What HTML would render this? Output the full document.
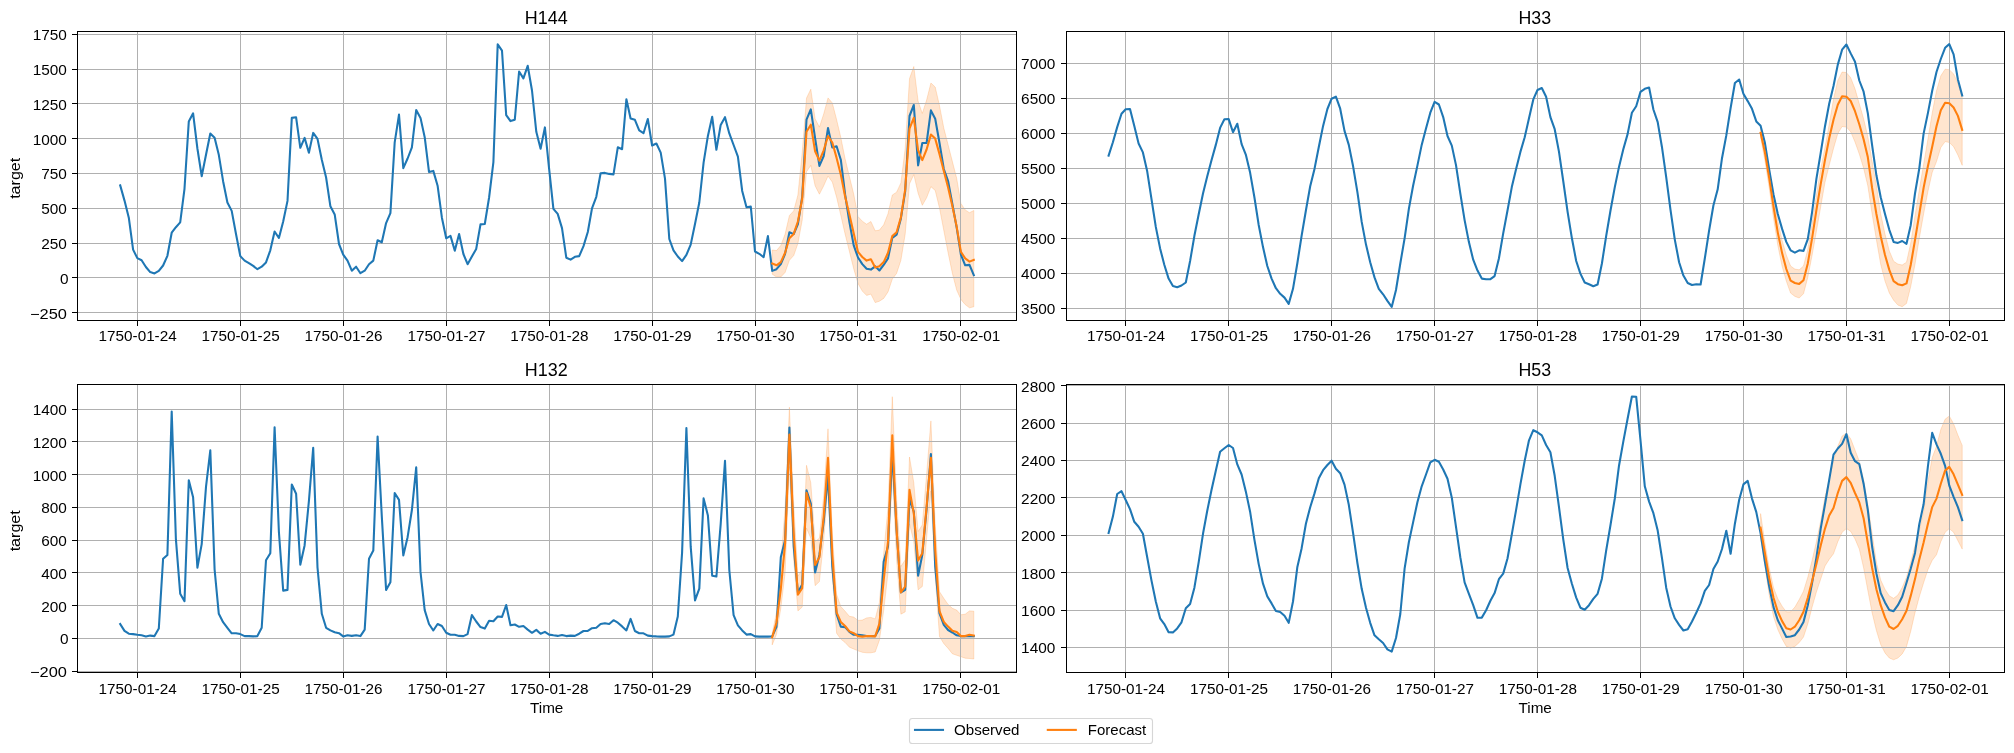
<!DOCTYPE html>
<html><head><meta charset="utf-8"><title>forecast</title>
<style>
html,body{margin:0;padding:0;background:#fff;}
body{width:2014px;height:753px;overflow:hidden;}
svg{display:block;will-change:transform;}
text{font-family:"Liberation Sans",sans-serif;fill:#000;}
</style></head><body>
<svg width="2014" height="753" viewBox="0 0 2014 753">
<rect width="2014" height="753" fill="#fff"/>
<clipPath id="cH144"><rect x="77.5" y="31.5" width="939.0" height="289.0"/></clipPath>
<g clip-path="url(#cH144)">
<polygon points="772.2,250.0 776.5,250.6 780.8,245.4 785.1,234.1 789.4,215.5 793.7,210.9 797.9,195.0 802.2,152.7 806.5,98.1 810.8,89.2 815.1,118.7 819.4,127.1 823.7,114.0 828.0,97.9 832.3,102.9 836.6,119.6 840.8,137.4 845.1,158.8 849.4,176.5 853.7,194.0 858.0,216.5 862.3,221.2 866.6,224.2 870.9,221.5 875.2,230.8 879.4,230.1 883.7,224.8 888.0,213.7 892.3,195.0 896.6,192.2 900.9,182.9 905.2,148.5 909.5,78.6 913.8,66.5 918.1,101.1 922.3,113.4 926.6,100.1 930.9,83.0 935.2,87.0 939.5,105.7 943.8,128.1 948.1,144.8 952.4,161.6 956.7,178.3 960.9,203.4 965.2,209.9 969.5,212.7 973.8,210.5 973.8,306.8 969.5,307.8 965.2,304.6 960.9,299.4 956.7,290.1 952.4,273.4 948.1,252.8 943.8,230.5 939.5,208.1 935.2,190.4 930.9,186.7 926.6,197.8 922.3,205.3 918.1,193.2 913.8,174.6 909.5,183.9 905.2,234.1 900.9,260.3 896.6,273.4 892.3,279.0 888.0,291.9 883.7,298.4 879.4,301.2 875.2,302.6 870.9,294.1 866.6,295.4 862.3,291.1 858.0,283.5 853.7,268.7 849.4,251.4 845.1,234.1 840.8,215.3 836.6,197.2 832.3,182.1 828.0,176.1 823.7,185.8 819.4,194.2 815.1,185.8 810.8,165.4 806.5,171.8 802.2,220.2 797.9,243.5 793.7,255.6 789.4,260.3 785.1,272.4 780.8,277.0 776.5,277.0 772.2,274.2" fill="#ff7f0e" fill-opacity="0.2" stroke="#ff7f0e" stroke-opacity="0.2" stroke-width="1" stroke-linejoin="round"/>
</g>
<path d="M137.5 31.5V320.5M240.5 31.5V320.5M343.5 31.5V320.5M446.5 31.5V320.5M549.5 31.5V320.5M652.5 31.5V320.5M755.5 31.5V320.5M857.5 31.5V320.5M960.5 31.5V320.5M77.5 312.5H1016.5M77.5 277.5H1016.5M77.5 243.5H1016.5M77.5 208.5H1016.5M77.5 173.5H1016.5M77.5 138.5H1016.5M77.5 103.5H1016.5M77.5 69.5H1016.5M77.5 34.5H1016.5" stroke="#b0b0b0" stroke-width="1" fill="none" shape-rendering="crispEdges"/>
<g clip-path="url(#cH144)">
<polyline points="120.2,185.4 124.5,200.6 128.8,217.7 133.1,249.6 137.3,258.1 141.6,260.2 145.9,267.0 150.2,272.1 154.5,273.4 158.8,270.9 163.1,265.5 167.4,255.8 171.7,232.7 175.9,227.2 180.2,222.4 184.5,188.8 188.8,121.4 193.1,113.3 197.4,148.5 201.7,176.2 206.0,154.8 210.3,133.5 214.6,137.7 218.8,154.8 223.1,181.2 227.4,202.5 231.7,210.9 236.0,234.0 240.3,256.1 244.6,260.6 248.9,263.1 253.2,265.9 257.4,269.2 261.7,266.7 266.0,262.4 270.3,250.3 274.6,231.5 278.9,238.0 283.2,221.5 287.5,200.9 291.8,117.9 296.1,117.3 300.3,147.8 304.6,137.9 308.9,152.8 313.2,132.9 317.5,138.9 321.8,159.8 326.1,177.5 330.4,206.3 334.7,214.4 339.0,244.0 343.2,254.6 347.5,260.6 351.8,270.7 356.1,266.7 360.4,273.2 364.7,270.7 369.0,264.2 373.3,260.6 377.6,240.3 381.8,242.3 386.1,223.1 390.4,213.1 394.7,142.3 399.0,114.6 403.3,168.2 407.6,158.5 411.9,147.3 416.2,110.1 420.5,117.9 424.7,137.2 429.0,171.9 433.3,170.9 437.6,185.7 441.9,217.7 446.2,238.3 450.5,235.9 454.8,250.8 459.1,234.0 463.4,254.0 467.6,264.2 471.9,256.5 476.2,249.0 480.5,224.4 484.8,224.0 489.1,197.5 493.4,162.2 497.7,44.4 502.0,50.7 506.2,115.1 510.5,121.1 514.8,119.7 519.1,71.5 523.4,78.4 527.7,65.8 532.0,90.5 536.3,131.8 540.6,148.8 544.9,127.4 549.1,168.7 553.4,208.8 557.7,213.9 562.0,228.1 566.3,257.7 570.6,259.6 574.9,256.8 579.2,256.1 583.5,246.1 587.8,232.0 592.0,208.4 596.3,196.8 600.6,173.2 604.9,172.9 609.2,173.9 613.5,174.4 617.8,147.3 622.1,149.2 626.4,99.2 630.6,118.5 634.9,119.8 639.2,130.4 643.5,133.2 647.8,119.0 652.1,145.5 656.4,143.5 660.7,152.6 665.0,178.6 669.3,239.0 673.5,250.3 677.8,256.5 682.1,261.1 686.4,254.9 690.7,244.6 695.0,224.0 699.3,202.5 703.6,162.7 707.9,135.9 712.2,116.8 716.4,149.8 720.7,124.9 725.0,117.2 729.3,133.4 733.6,145.0 737.9,156.6 742.2,191.0 746.5,207.3 750.8,206.6 755.0,251.5 759.3,253.8 763.6,257.2 767.9,236.1 772.2,270.9 776.5,269.2 780.8,264.1 785.1,253.8 789.4,232.3 793.7,234.1 797.9,224.0 802.2,197.0 806.5,119.7 810.8,109.4 815.1,138.2 819.4,165.9 823.7,156.0 828.0,128.1 832.3,147.5 836.6,146.3 840.8,159.7 845.1,194.5 849.4,222.0 853.7,245.4 858.0,257.5 862.3,264.1 866.6,268.7 870.9,269.6 875.2,266.3 879.4,270.5 883.7,264.9 888.0,258.4 892.3,237.9 896.6,234.7 900.9,218.4 905.2,191.3 909.5,116.0 913.8,105.0 918.1,165.4 922.3,143.0 926.6,143.0 930.9,110.4 935.2,118.7 939.5,143.0 943.8,169.0 948.1,181.2 952.4,204.3 956.7,227.6 960.9,254.7 965.2,265.3 969.5,264.9 973.8,275.2" fill="none" stroke="#1f77b4" stroke-width="2.08" stroke-linejoin="round" stroke-linecap="square"/>
<polyline points="772.2,263.5 776.5,265.3 780.8,262.1 785.1,252.8 789.4,238.3 793.7,233.9 797.9,221.5 802.2,198.8 806.5,131.8 810.8,124.7 815.1,151.3 819.4,160.6 823.7,150.3 828.0,136.0 832.3,142.5 836.6,157.9 840.8,174.6 845.1,196.5 849.4,214.6 853.7,233.3 858.0,251.9 862.3,257.0 866.6,260.6 870.9,259.3 875.2,267.4 879.4,266.3 883.7,262.1 888.0,252.8 892.3,236.1 896.6,232.3 900.9,217.4 905.2,189.4 909.5,128.6 913.8,117.8 918.1,150.3 922.3,160.1 926.6,149.5 930.9,134.6 935.2,138.6 939.5,154.1 943.8,170.9 948.1,187.5 952.4,206.2 956.7,226.8 960.9,251.9 965.2,258.4 969.5,261.6 973.8,259.9" fill="none" stroke="#ff7f0e" stroke-width="2.08" stroke-linejoin="round" stroke-linecap="square"/>
</g>
<rect x="77.5" y="31.5" width="939.0" height="289.0" fill="none" stroke="#000" stroke-width="1" shape-rendering="crispEdges"/>
<path d="M137.0 321.0h1v5h-1zM240.0 321.0h1v5h-1zM343.0 321.0h1v5h-1zM446.0 321.0h1v5h-1zM549.0 321.0h1v5h-1zM652.0 321.0h1v5h-1zM755.0 321.0h1v5h-1zM857.0 321.0h1v5h-1zM960.0 321.0h1v5h-1zM77.0 312.0h-5v1h5zM77.0 277.0h-5v1h5zM77.0 243.0h-5v1h5zM77.0 208.0h-5v1h5zM77.0 173.0h-5v1h5zM77.0 138.0h-5v1h5zM77.0 103.0h-5v1h5zM77.0 69.0h-5v1h5zM77.0 34.0h-5v1h5z" fill="#000" stroke="none" shape-rendering="crispEdges"/>
<text x="137.64" y="341.00" font-size="14.1" text-anchor="middle" textLength="78.12" lengthAdjust="spacingAndGlyphs">1750-01-24</text>
<text x="240.59" y="341.00" font-size="14.1" text-anchor="middle" textLength="78.12" lengthAdjust="spacingAndGlyphs">1750-01-25</text>
<text x="343.54" y="341.00" font-size="14.1" text-anchor="middle" textLength="78.12" lengthAdjust="spacingAndGlyphs">1750-01-26</text>
<text x="446.49" y="341.00" font-size="14.1" text-anchor="middle" textLength="78.12" lengthAdjust="spacingAndGlyphs">1750-01-27</text>
<text x="549.44" y="341.00" font-size="14.1" text-anchor="middle" textLength="78.12" lengthAdjust="spacingAndGlyphs">1750-01-28</text>
<text x="652.40" y="341.00" font-size="14.1" text-anchor="middle" textLength="78.12" lengthAdjust="spacingAndGlyphs">1750-01-29</text>
<text x="755.35" y="341.00" font-size="14.1" text-anchor="middle" textLength="78.12" lengthAdjust="spacingAndGlyphs">1750-01-30</text>
<text x="858.30" y="341.00" font-size="14.1" text-anchor="middle" textLength="78.12" lengthAdjust="spacingAndGlyphs">1750-01-31</text>
<text x="961.25" y="341.00" font-size="14.1" text-anchor="middle" textLength="78.12" lengthAdjust="spacingAndGlyphs">1750-02-01</text>
<text x="66.90" y="319.00" font-size="14.1" text-anchor="end" textLength="36.92" lengthAdjust="spacingAndGlyphs">−250</text>
<text x="68.60" y="284.00" font-size="14.1" text-anchor="end" textLength="8.55" lengthAdjust="spacingAndGlyphs">0</text>
<text x="66.90" y="249.00" font-size="14.1" text-anchor="end" textLength="25.65" lengthAdjust="spacingAndGlyphs">250</text>
<text x="66.90" y="214.00" font-size="14.1" text-anchor="end" textLength="25.65" lengthAdjust="spacingAndGlyphs">500</text>
<text x="66.90" y="179.00" font-size="14.1" text-anchor="end" textLength="25.65" lengthAdjust="spacingAndGlyphs">750</text>
<text x="66.90" y="145.00" font-size="14.1" text-anchor="end" textLength="34.21" lengthAdjust="spacingAndGlyphs">1000</text>
<text x="66.90" y="110.00" font-size="14.1" text-anchor="end" textLength="34.21" lengthAdjust="spacingAndGlyphs">1250</text>
<text x="66.90" y="75.00" font-size="14.1" text-anchor="end" textLength="34.21" lengthAdjust="spacingAndGlyphs">1500</text>
<text x="66.90" y="40.00" font-size="14.1" text-anchor="end" textLength="34.21" lengthAdjust="spacingAndGlyphs">1750</text>
<text x="546.30" y="23.90" font-size="17.6" text-anchor="middle" textLength="42.92" lengthAdjust="spacingAndGlyphs">H144</text>
<text transform="translate(19.9,178.3) rotate(-90)" font-size="14.1" text-anchor="middle" textLength="41.12" lengthAdjust="spacingAndGlyphs">target</text>
<clipPath id="cH33"><rect x="1066.5" y="31.5" width="938.0" height="289.0"/></clipPath>
<g clip-path="url(#cH33)">
<polygon points="1760.6,127.7 1764.9,143.8 1769.2,168.3 1773.5,195.6 1777.8,220.8 1782.1,240.4 1786.3,255.0 1790.6,266.0 1794.9,269.1 1799.2,269.8 1803.5,266.0 1807.8,249.4 1812.1,223.3 1816.4,195.3 1820.7,169.2 1825.0,147.3 1829.2,124.3 1833.5,99.1 1837.8,80.5 1842.1,72.0 1846.4,72.6 1850.7,77.7 1855.0,88.8 1859.3,103.8 1863.6,118.7 1867.8,136.4 1872.1,161.3 1876.4,185.8 1880.7,213.8 1885.0,234.1 1889.3,250.9 1893.6,261.2 1897.9,264.1 1902.2,265.0 1906.5,262.2 1910.7,243.2 1915.0,215.8 1919.3,189.7 1923.6,164.4 1927.9,139.2 1932.2,113.1 1936.5,90.7 1940.8,75.8 1945.1,69.2 1949.3,69.7 1953.6,73.9 1957.9,83.2 1962.2,97.2 1962.2,165.3 1957.9,155.1 1953.6,146.7 1949.3,142.5 1945.1,141.6 1940.8,147.6 1936.5,161.6 1932.2,172.5 1927.9,191.6 1923.6,214.0 1919.3,238.2 1915.0,264.3 1910.7,286.6 1906.5,303.4 1902.2,306.7 1897.9,305.1 1893.6,300.2 1889.3,292.9 1885.0,281.1 1880.7,264.3 1876.4,239.7 1872.1,213.8 1867.8,185.8 1863.6,168.1 1859.3,154.1 1855.0,142.0 1850.7,131.8 1846.4,127.1 1842.1,126.5 1837.8,133.6 1833.5,148.5 1829.2,165.3 1825.0,182.3 1820.7,206.8 1816.4,231.3 1812.1,255.2 1807.8,277.4 1803.5,293.7 1799.2,298.0 1794.9,296.4 1790.6,293.1 1786.3,281.1 1782.1,266.3 1777.8,245.3 1773.5,218.0 1769.2,187.9 1764.9,160.6 1760.6,137.5" fill="#ff7f0e" fill-opacity="0.2" stroke="#ff7f0e" stroke-opacity="0.2" stroke-width="1" stroke-linejoin="round"/>
</g>
<path d="M1125.5 31.5V320.5M1228.5 31.5V320.5M1331.5 31.5V320.5M1434.5 31.5V320.5M1537.5 31.5V320.5M1640.5 31.5V320.5M1743.5 31.5V320.5M1846.5 31.5V320.5M1949.5 31.5V320.5M1066.5 308.5H2004.5M1066.5 273.5H2004.5M1066.5 238.5H2004.5M1066.5 203.5H2004.5M1066.5 168.5H2004.5M1066.5 133.5H2004.5M1066.5 98.5H2004.5M1066.5 63.5H2004.5" stroke="#b0b0b0" stroke-width="1" fill="none" shape-rendering="crispEdges"/>
<g clip-path="url(#cH33)">
<polyline points="1108.6,155.6 1112.9,142.3 1117.2,127.1 1121.5,113.8 1125.7,109.2 1130.0,109.0 1134.3,125.9 1138.6,143.5 1142.9,152.4 1147.2,171.3 1151.5,199.1 1155.8,226.9 1160.1,248.4 1164.3,264.8 1168.6,278.6 1172.9,286.0 1177.2,287.2 1181.5,285.5 1185.8,282.5 1190.1,261.0 1194.4,235.8 1198.7,214.3 1203.0,193.5 1207.2,176.4 1211.5,160.2 1215.8,144.9 1220.1,127.9 1224.4,119.3 1228.7,119.1 1233.0,132.2 1237.3,123.8 1241.6,144.1 1245.8,154.6 1250.1,172.6 1254.4,197.2 1258.7,225.0 1263.0,247.1 1267.3,266.0 1271.6,278.6 1275.9,288.2 1280.2,293.8 1284.5,297.6 1288.7,303.9 1293.0,288.8 1297.3,263.5 1301.6,235.8 1305.9,210.5 1310.2,186.3 1314.5,168.9 1318.8,147.0 1323.1,125.9 1327.4,109.0 1331.6,98.7 1335.9,96.6 1340.2,108.7 1344.5,130.9 1348.8,144.9 1353.1,166.3 1357.4,192.2 1361.7,221.9 1366.0,244.6 1370.2,262.2 1374.5,277.4 1378.8,288.8 1383.1,294.3 1387.4,300.9 1391.7,306.9 1396.0,290.0 1400.3,263.5 1404.6,238.3 1408.9,208.6 1413.1,185.8 1417.4,165.6 1421.7,144.9 1426.0,128.4 1430.3,112.7 1434.6,101.9 1438.9,104.5 1443.2,117.1 1447.5,136.0 1451.8,145.6 1456.0,165.1 1460.3,193.4 1464.6,220.1 1468.9,242.1 1473.2,259.7 1477.5,270.6 1481.8,278.6 1486.1,279.2 1490.4,279.2 1494.6,276.1 1498.9,258.5 1503.2,233.3 1507.5,210.5 1511.8,187.1 1516.1,168.9 1520.4,151.9 1524.7,137.3 1529.0,118.3 1533.3,99.4 1537.5,90.0 1541.8,88.0 1546.1,96.8 1550.4,117.1 1554.7,129.2 1559.0,151.9 1563.3,181.5 1567.6,211.8 1571.9,238.3 1576.2,261.0 1580.4,273.6 1584.7,282.5 1589.0,284.2 1593.3,286.2 1597.6,284.5 1601.9,263.5 1606.2,235.8 1610.5,210.5 1614.8,187.1 1619.0,166.9 1623.3,149.3 1627.6,134.1 1631.9,112.8 1636.2,106.2 1640.5,91.8 1644.8,88.8 1649.1,87.5 1653.4,109.5 1657.7,122.1 1661.9,146.7 1666.2,177.1 1670.5,209.9 1674.8,239.6 1679.1,262.2 1683.4,275.6 1687.7,283.0 1692.0,285.0 1696.3,284.2 1700.6,284.5 1704.8,258.5 1709.1,230.7 1713.4,205.5 1717.7,189.3 1722.0,158.2 1726.3,135.4 1730.6,108.2 1734.9,83.0 1739.2,79.5 1743.4,93.8 1747.7,101.1 1752.0,108.8 1756.3,121.4 1760.6,125.7 1764.9,142.8 1769.2,169.7 1773.5,194.4 1777.8,214.0 1782.1,228.9 1786.3,241.9 1790.6,250.3 1794.9,252.6 1799.2,250.3 1803.5,250.9 1807.8,239.1 1812.1,212.1 1816.4,178.8 1820.7,152.9 1825.0,126.2 1829.2,103.8 1833.5,86.0 1837.8,64.6 1842.1,49.7 1846.4,44.5 1850.7,53.4 1855.0,61.8 1859.3,80.5 1863.6,91.7 1867.8,113.1 1872.1,145.2 1876.4,175.3 1880.7,197.2 1885.0,214.0 1889.3,229.8 1893.6,241.9 1897.9,242.9 1902.2,241.0 1906.5,243.8 1910.7,225.2 1915.0,193.5 1919.3,168.3 1923.6,133.6 1927.9,113.1 1932.2,90.7 1936.5,72.0 1940.8,59.0 1945.1,47.8 1949.3,44.1 1953.6,54.3 1957.9,79.5 1962.2,95.4" fill="none" stroke="#1f77b4" stroke-width="2.08" stroke-linejoin="round" stroke-linecap="square"/>
<polyline points="1760.6,132.7 1764.9,152.3 1769.2,178.1 1773.5,206.5 1777.8,232.6 1782.1,253.1 1786.3,269.0 1790.6,280.7 1794.9,283.0 1799.2,283.9 1803.5,280.2 1807.8,263.4 1812.1,238.2 1816.4,210.2 1820.7,184.1 1825.0,159.9 1829.2,138.3 1833.5,119.7 1837.8,104.7 1842.1,96.3 1846.4,96.7 1850.7,101.0 1855.0,111.2 1859.3,124.3 1863.6,139.2 1867.8,157.1 1872.1,187.9 1876.4,214.0 1880.7,236.3 1885.0,255.0 1889.3,269.9 1893.6,281.2 1897.9,284.2 1902.2,285.3 1906.5,283.4 1910.7,265.0 1915.0,240.1 1919.3,214.0 1923.6,187.9 1927.9,166.2 1932.2,146.7 1936.5,126.2 1940.8,110.3 1945.1,102.8 1949.3,103.2 1953.6,107.5 1957.9,115.9 1962.2,129.9" fill="none" stroke="#ff7f0e" stroke-width="2.08" stroke-linejoin="round" stroke-linecap="square"/>
</g>
<rect x="1066.5" y="31.5" width="938.0" height="289.0" fill="none" stroke="#000" stroke-width="1" shape-rendering="crispEdges"/>
<path d="M1125.0 321.0h1v5h-1zM1228.0 321.0h1v5h-1zM1331.0 321.0h1v5h-1zM1434.0 321.0h1v5h-1zM1537.0 321.0h1v5h-1zM1640.0 321.0h1v5h-1zM1743.0 321.0h1v5h-1zM1846.0 321.0h1v5h-1zM1949.0 321.0h1v5h-1zM1066.0 308.0h-5v1h5zM1066.0 273.0h-5v1h5zM1066.0 238.0h-5v1h5zM1066.0 203.0h-5v1h5zM1066.0 168.0h-5v1h5zM1066.0 133.0h-5v1h5zM1066.0 98.0h-5v1h5zM1066.0 63.0h-5v1h5z" fill="#000" stroke="none" shape-rendering="crispEdges"/>
<text x="1126.04" y="341.00" font-size="14.1" text-anchor="middle" textLength="78.12" lengthAdjust="spacingAndGlyphs">1750-01-24</text>
<text x="1228.99" y="341.00" font-size="14.1" text-anchor="middle" textLength="78.12" lengthAdjust="spacingAndGlyphs">1750-01-25</text>
<text x="1331.94" y="341.00" font-size="14.1" text-anchor="middle" textLength="78.12" lengthAdjust="spacingAndGlyphs">1750-01-26</text>
<text x="1434.89" y="341.00" font-size="14.1" text-anchor="middle" textLength="78.12" lengthAdjust="spacingAndGlyphs">1750-01-27</text>
<text x="1537.84" y="341.00" font-size="14.1" text-anchor="middle" textLength="78.12" lengthAdjust="spacingAndGlyphs">1750-01-28</text>
<text x="1640.80" y="341.00" font-size="14.1" text-anchor="middle" textLength="78.12" lengthAdjust="spacingAndGlyphs">1750-01-29</text>
<text x="1743.75" y="341.00" font-size="14.1" text-anchor="middle" textLength="78.12" lengthAdjust="spacingAndGlyphs">1750-01-30</text>
<text x="1846.70" y="341.00" font-size="14.1" text-anchor="middle" textLength="78.12" lengthAdjust="spacingAndGlyphs">1750-01-31</text>
<text x="1949.65" y="341.00" font-size="14.1" text-anchor="middle" textLength="78.12" lengthAdjust="spacingAndGlyphs">1750-02-01</text>
<text x="1055.30" y="314.00" font-size="14.1" text-anchor="end" textLength="34.21" lengthAdjust="spacingAndGlyphs">3500</text>
<text x="1055.30" y="279.00" font-size="14.1" text-anchor="end" textLength="34.21" lengthAdjust="spacingAndGlyphs">4000</text>
<text x="1055.30" y="244.00" font-size="14.1" text-anchor="end" textLength="34.21" lengthAdjust="spacingAndGlyphs">4500</text>
<text x="1055.30" y="209.00" font-size="14.1" text-anchor="end" textLength="34.21" lengthAdjust="spacingAndGlyphs">5000</text>
<text x="1055.30" y="174.00" font-size="14.1" text-anchor="end" textLength="34.21" lengthAdjust="spacingAndGlyphs">5500</text>
<text x="1055.30" y="139.00" font-size="14.1" text-anchor="end" textLength="34.21" lengthAdjust="spacingAndGlyphs">6000</text>
<text x="1055.30" y="104.00" font-size="14.1" text-anchor="end" textLength="34.21" lengthAdjust="spacingAndGlyphs">6500</text>
<text x="1055.30" y="69.00" font-size="14.1" text-anchor="end" textLength="34.21" lengthAdjust="spacingAndGlyphs">7000</text>
<text x="1534.80" y="23.90" font-size="17.6" text-anchor="middle" textLength="32.66" lengthAdjust="spacingAndGlyphs">H33</text>
<clipPath id="cH132"><rect x="77.5" y="384.5" width="939.0" height="288.0"/></clipPath>
<g clip-path="url(#cH132)">
<polygon points="772.2,633.5 776.5,612.2 780.8,564.7 785.1,507.4 789.4,407.2 793.7,504.1 797.9,576.2 802.2,569.6 806.5,465.3 810.8,482.8 815.1,541.5 819.4,538.2 823.7,495.9 828.0,428.8 832.3,533.6 836.6,594.2 840.8,606.5 845.1,611.2 849.4,616.3 853.7,617.1 858.0,620.4 862.3,620.1 866.6,617.9 870.9,617.4 875.2,618.9 879.4,602.4 883.7,553.2 888.0,507.4 892.3,396.7 896.6,499.2 900.9,566.5 905.2,559.8 909.5,457.0 913.8,482.8 918.1,531.5 922.3,524.9 926.6,474.6 930.9,420.9 935.2,523.8 939.5,591.7 943.8,598.3 948.1,604.5 952.4,608.3 956.7,610.1 960.9,614.8 965.2,614.2 969.5,610.9 973.8,611.2 973.8,659.0 969.5,658.5 965.2,658.2 960.9,656.7 956.7,655.3 952.4,653.8 948.1,648.4 943.8,643.6 939.5,636.6 935.2,576.2 930.9,491.0 926.6,538.5 922.3,586.5 918.1,589.8 913.8,541.8 909.5,523.8 905.2,611.9 900.9,614.2 896.6,559.8 892.3,471.4 888.0,572.9 883.7,610.6 879.4,640.2 875.2,652.0 870.9,652.8 866.6,652.8 862.3,652.3 858.0,650.8 853.7,649.0 849.4,647.2 845.1,642.5 840.8,639.1 836.6,633.2 832.3,576.2 828.0,486.1 823.7,540.1 819.4,581.6 815.1,585.7 810.8,538.2 806.5,528.2 802.2,607.1 797.9,610.9 793.7,559.8 789.4,466.5 785.1,572.9 780.8,608.3 776.5,634.3 772.2,644.9" fill="#ff7f0e" fill-opacity="0.2" stroke="#ff7f0e" stroke-opacity="0.2" stroke-width="1" stroke-linejoin="round"/>
</g>
<path d="M137.5 384.5V672.5M240.5 384.5V672.5M343.5 384.5V672.5M446.5 384.5V672.5M549.5 384.5V672.5M652.5 384.5V672.5M755.5 384.5V672.5M857.5 384.5V672.5M960.5 384.5V672.5M77.5 671.5H1016.5M77.5 638.5H1016.5M77.5 605.5H1016.5M77.5 572.5H1016.5M77.5 540.5H1016.5M77.5 507.5H1016.5M77.5 474.5H1016.5M77.5 441.5H1016.5M77.5 409.5H1016.5" stroke="#b0b0b0" stroke-width="1" fill="none" shape-rendering="crispEdges"/>
<g clip-path="url(#cH132)">
<polyline points="120.2,624.0 124.5,630.9 128.8,633.7 133.1,634.1 137.3,634.8 141.6,635.3 145.9,636.4 150.2,635.6 154.5,636.1 158.8,628.6 163.1,558.8 167.4,554.9 171.7,411.6 175.9,539.2 180.2,593.7 184.5,601.2 188.8,480.2 193.1,497.2 197.4,567.8 201.7,544.1 206.0,486.9 210.3,450.4 214.6,569.5 218.8,613.8 223.1,622.2 227.4,627.8 231.7,633.3 236.0,633.2 240.3,634.1 244.6,636.1 248.9,636.1 253.2,636.4 257.4,636.1 261.7,627.8 266.0,560.3 270.3,553.2 274.6,427.2 278.9,532.0 283.2,590.6 287.5,589.9 291.8,484.5 296.1,493.8 300.3,564.7 304.6,545.4 308.9,501.2 313.2,447.8 317.5,567.5 321.8,613.8 326.1,627.8 330.4,630.4 334.7,632.3 339.0,633.2 343.2,636.4 347.5,635.3 351.8,635.9 356.1,635.3 360.4,636.1 364.7,629.6 369.0,558.8 373.3,550.6 377.6,436.5 381.8,516.4 386.1,589.9 390.4,582.2 394.7,493.0 399.0,499.9 403.3,555.5 407.6,537.2 411.9,510.0 416.2,467.3 420.5,571.9 424.7,610.1 429.0,624.0 433.3,630.5 437.6,624.0 441.9,626.0 446.2,632.7 450.5,634.8 454.8,634.8 459.1,635.9 463.4,636.1 467.6,634.1 471.9,615.1 476.2,621.5 480.5,627.1 484.8,628.6 489.1,620.7 493.4,621.2 497.7,616.5 502.0,616.9 506.2,605.0 510.5,625.3 514.8,624.5 519.1,626.8 523.4,626.0 527.7,629.6 532.0,632.8 536.3,629.9 540.6,633.7 544.9,631.9 549.1,634.6 553.4,635.3 557.7,635.9 562.0,635.1 566.3,636.1 570.6,635.6 574.9,635.9 579.2,633.7 583.5,631.0 587.8,630.9 592.0,628.2 596.3,627.8 600.6,624.0 604.9,623.2 609.2,624.0 613.5,620.2 617.8,622.7 622.1,626.4 626.4,630.4 630.6,618.9 634.9,631.0 639.2,633.2 643.5,633.3 647.8,635.6 652.1,636.1 656.4,636.4 660.7,636.6 665.0,636.6 669.3,636.4 673.5,634.6 677.8,616.5 682.1,552.4 686.4,428.0 690.7,546.7 695.0,600.4 699.3,588.6 703.6,498.4 707.9,515.4 712.2,575.7 716.4,576.5 720.7,523.8 725.0,460.7 729.3,570.0 733.6,615.1 737.9,625.3 742.2,630.4 746.5,634.6 750.8,634.1 755.0,636.4 759.3,636.6 763.6,636.6 767.9,636.6 772.2,636.4 776.5,626.9 780.8,557.3 785.1,540.1 789.4,427.5 793.7,546.5 797.9,592.5 802.2,584.4 806.5,490.2 810.8,503.6 815.1,572.4 819.4,554.9 823.7,521.5 828.0,474.6 832.3,566.5 836.6,614.2 840.8,626.6 845.1,627.1 849.4,631.9 853.7,634.8 858.0,634.8 862.3,635.3 866.6,636.1 870.9,636.1 875.2,636.1 879.4,628.4 883.7,561.6 888.0,546.5 892.3,450.1 896.6,530.3 900.9,592.4 905.2,589.8 909.5,499.2 913.8,511.5 918.1,575.7 922.3,554.9 926.6,509.0 930.9,454.0 935.2,566.5 939.5,613.5 943.8,624.8 948.1,630.0 952.4,632.5 956.7,635.3 960.9,636.1 965.2,636.1 969.5,636.1 973.8,636.1" fill="none" stroke="#1f77b4" stroke-width="2.08" stroke-linejoin="round" stroke-linecap="square"/>
<polyline points="772.2,637.3 776.5,622.5 780.8,589.3 785.1,543.3 789.4,434.5 793.7,533.3 797.9,594.8 802.2,588.1 806.5,492.8 810.8,507.7 815.1,564.9 819.4,557.3 823.7,516.6 828.0,457.8 832.3,554.9 836.6,612.4 840.8,621.9 845.1,626.0 849.4,631.4 853.7,633.2 858.0,636.1 862.3,636.6 866.6,636.1 870.9,636.1 875.2,636.4 879.4,623.7 883.7,579.8 888.0,541.5 892.3,435.3 896.6,529.8 900.9,592.4 905.2,586.5 909.5,489.7 913.8,513.3 918.1,560.6 922.3,553.2 926.6,506.6 930.9,457.8 935.2,549.8 939.5,611.2 943.8,621.9 948.1,626.6 952.4,630.7 956.7,631.9 960.9,636.1 965.2,636.1 969.5,634.8 973.8,635.5" fill="none" stroke="#ff7f0e" stroke-width="2.08" stroke-linejoin="round" stroke-linecap="square"/>
</g>
<rect x="77.5" y="384.5" width="939.0" height="288.0" fill="none" stroke="#000" stroke-width="1" shape-rendering="crispEdges"/>
<path d="M137.0 673.0h1v5h-1zM240.0 673.0h1v5h-1zM343.0 673.0h1v5h-1zM446.0 673.0h1v5h-1zM549.0 673.0h1v5h-1zM652.0 673.0h1v5h-1zM755.0 673.0h1v5h-1zM857.0 673.0h1v5h-1zM960.0 673.0h1v5h-1zM77.0 671.0h-5v1h5zM77.0 638.0h-5v1h5zM77.0 605.0h-5v1h5zM77.0 572.0h-5v1h5zM77.0 540.0h-5v1h5zM77.0 507.0h-5v1h5zM77.0 474.0h-5v1h5zM77.0 441.0h-5v1h5zM77.0 409.0h-5v1h5z" fill="#000" stroke="none" shape-rendering="crispEdges"/>
<text x="137.64" y="694.00" font-size="14.1" text-anchor="middle" textLength="78.12" lengthAdjust="spacingAndGlyphs">1750-01-24</text>
<text x="240.59" y="694.00" font-size="14.1" text-anchor="middle" textLength="78.12" lengthAdjust="spacingAndGlyphs">1750-01-25</text>
<text x="343.54" y="694.00" font-size="14.1" text-anchor="middle" textLength="78.12" lengthAdjust="spacingAndGlyphs">1750-01-26</text>
<text x="446.49" y="694.00" font-size="14.1" text-anchor="middle" textLength="78.12" lengthAdjust="spacingAndGlyphs">1750-01-27</text>
<text x="549.44" y="694.00" font-size="14.1" text-anchor="middle" textLength="78.12" lengthAdjust="spacingAndGlyphs">1750-01-28</text>
<text x="652.40" y="694.00" font-size="14.1" text-anchor="middle" textLength="78.12" lengthAdjust="spacingAndGlyphs">1750-01-29</text>
<text x="755.35" y="694.00" font-size="14.1" text-anchor="middle" textLength="78.12" lengthAdjust="spacingAndGlyphs">1750-01-30</text>
<text x="858.30" y="694.00" font-size="14.1" text-anchor="middle" textLength="78.12" lengthAdjust="spacingAndGlyphs">1750-01-31</text>
<text x="961.25" y="694.00" font-size="14.1" text-anchor="middle" textLength="78.12" lengthAdjust="spacingAndGlyphs">1750-02-01</text>
<text x="66.90" y="677.00" font-size="14.1" text-anchor="end" textLength="36.92" lengthAdjust="spacingAndGlyphs">−200</text>
<text x="68.60" y="644.00" font-size="14.1" text-anchor="end" textLength="8.55" lengthAdjust="spacingAndGlyphs">0</text>
<text x="66.90" y="612.00" font-size="14.1" text-anchor="end" textLength="25.65" lengthAdjust="spacingAndGlyphs">200</text>
<text x="66.90" y="579.00" font-size="14.1" text-anchor="end" textLength="25.65" lengthAdjust="spacingAndGlyphs">400</text>
<text x="66.90" y="546.00" font-size="14.1" text-anchor="end" textLength="25.65" lengthAdjust="spacingAndGlyphs">600</text>
<text x="66.90" y="513.00" font-size="14.1" text-anchor="end" textLength="25.65" lengthAdjust="spacingAndGlyphs">800</text>
<text x="66.90" y="481.00" font-size="14.1" text-anchor="end" textLength="34.21" lengthAdjust="spacingAndGlyphs">1000</text>
<text x="66.90" y="448.00" font-size="14.1" text-anchor="end" textLength="34.21" lengthAdjust="spacingAndGlyphs">1200</text>
<text x="66.90" y="415.00" font-size="14.1" text-anchor="end" textLength="34.21" lengthAdjust="spacingAndGlyphs">1400</text>
<text x="546.30" y="376.00" font-size="17.6" text-anchor="middle" textLength="42.92" lengthAdjust="spacingAndGlyphs">H132</text>
<text transform="translate(19.9,530.8) rotate(-90)" font-size="14.1" text-anchor="middle" textLength="41.12" lengthAdjust="spacingAndGlyphs">target</text>
<text x="546.70" y="713.10" font-size="14.1" text-anchor="middle" textLength="33.32" lengthAdjust="spacingAndGlyphs">Time</text>
<clipPath id="cH53"><rect x="1066.5" y="384.5" width="938.0" height="288.0"/></clipPath>
<g clip-path="url(#cH53)">
<polygon points="1760.6,513.6 1764.9,542.8 1769.2,567.8 1773.5,587.5 1777.8,598.7 1782.1,606.2 1786.3,611.8 1790.6,611.8 1794.9,607.1 1799.2,599.6 1803.5,591.2 1807.8,577.2 1812.1,560.4 1816.4,541.7 1820.7,521.1 1825.0,496.8 1829.2,479.2 1833.5,460.5 1837.8,446.3 1842.1,436.0 1846.4,433.2 1850.7,438.8 1855.0,450.0 1859.3,461.2 1863.6,479.9 1867.8,504.3 1872.1,533.4 1876.4,562.2 1880.7,580.0 1885.0,589.3 1889.3,595.9 1893.6,598.3 1897.9,595.0 1902.2,587.5 1906.5,577.2 1910.7,562.2 1915.0,545.4 1919.3,530.4 1923.6,511.7 1927.9,481.8 1932.2,457.5 1936.5,446.3 1940.8,429.5 1945.1,419.2 1949.3,416.0 1953.6,423.8 1957.9,435.1 1962.2,445.4 1962.2,549.1 1957.9,540.7 1953.6,532.3 1949.3,528.6 1945.1,532.3 1940.8,541.7 1936.5,554.7 1932.2,560.4 1927.9,569.7 1923.6,582.8 1919.3,596.8 1915.0,612.7 1910.7,631.4 1906.5,646.4 1902.2,653.9 1897.9,658.0 1893.6,659.8 1889.3,658.0 1885.0,652.9 1880.7,644.5 1876.4,630.5 1872.1,612.7 1867.8,590.3 1863.6,567.8 1859.3,549.1 1855.0,538.9 1850.7,531.4 1846.4,528.6 1842.1,532.3 1837.8,541.7 1833.5,553.8 1829.2,559.4 1825.0,566.0 1820.7,579.1 1816.4,592.1 1812.1,607.1 1807.8,623.9 1803.5,637.0 1799.2,642.6 1794.9,646.4 1790.6,648.2 1786.3,646.4 1782.1,638.9 1777.8,629.5 1773.5,616.5 1769.2,595.0 1764.9,566.0 1760.6,537.2" fill="#ff7f0e" fill-opacity="0.2" stroke="#ff7f0e" stroke-opacity="0.2" stroke-width="1" stroke-linejoin="round"/>
</g>
<path d="M1125.5 384.5V672.5M1228.5 384.5V672.5M1331.5 384.5V672.5M1434.5 384.5V672.5M1537.5 384.5V672.5M1640.5 384.5V672.5M1743.5 384.5V672.5M1846.5 384.5V672.5M1949.5 384.5V672.5M1066.5 647.5H2004.5M1066.5 610.5H2004.5M1066.5 572.5H2004.5M1066.5 535.5H2004.5M1066.5 497.5H2004.5M1066.5 460.5H2004.5M1066.5 423.5H2004.5M1066.5 385.5H2004.5" stroke="#b0b0b0" stroke-width="1" fill="none" shape-rendering="crispEdges"/>
<g clip-path="url(#cH53)">
<polyline points="1108.6,532.9 1112.9,516.6 1117.2,494.0 1121.5,491.2 1125.7,500.0 1130.0,509.1 1134.3,521.8 1138.6,526.7 1142.9,533.8 1147.2,557.2 1151.5,580.6 1155.8,601.5 1160.1,618.3 1164.3,624.1 1168.6,632.2 1172.9,632.4 1177.2,628.4 1181.5,622.3 1185.8,608.2 1190.1,603.9 1194.4,587.7 1198.7,562.2 1203.0,533.8 1207.2,511.0 1211.5,490.0 1215.8,470.8 1220.1,451.7 1224.4,448.3 1228.7,445.0 1233.0,448.0 1237.3,464.4 1241.6,474.5 1245.8,491.4 1250.1,511.7 1254.4,539.6 1258.7,564.1 1263.0,583.7 1267.3,596.4 1271.6,603.4 1275.9,611.0 1280.2,612.0 1284.5,615.7 1288.7,622.8 1293.0,601.5 1297.3,567.3 1301.6,548.4 1305.9,523.7 1310.2,507.2 1314.5,493.4 1318.8,478.3 1323.1,470.2 1327.4,465.0 1331.6,460.7 1335.9,468.7 1340.2,473.2 1344.5,484.6 1348.8,504.8 1353.1,533.2 1357.4,563.0 1361.7,588.8 1366.0,607.7 1370.2,622.8 1374.5,635.3 1378.8,639.3 1383.1,643.0 1387.4,649.4 1391.7,651.6 1396.0,638.0 1400.3,614.0 1404.6,568.6 1408.9,542.0 1413.1,522.4 1417.4,502.2 1421.7,486.3 1426.0,474.5 1430.3,462.4 1434.6,459.8 1438.9,461.8 1443.2,469.5 1447.5,478.8 1451.8,497.7 1456.0,526.9 1460.3,557.2 1464.6,582.4 1468.9,593.8 1473.2,605.2 1477.5,617.8 1481.8,617.6 1486.1,610.3 1490.4,600.8 1494.6,593.1 1498.9,579.2 1503.2,573.6 1507.5,558.5 1511.8,534.4 1516.1,509.9 1520.4,484.4 1524.7,460.7 1529.0,440.3 1533.3,430.2 1537.5,432.3 1541.8,435.3 1546.1,445.0 1550.4,452.3 1554.7,475.8 1559.0,507.2 1563.3,539.6 1567.6,568.0 1571.9,583.7 1576.2,597.6 1580.4,607.7 1584.7,609.7 1589.0,605.2 1593.3,598.9 1597.6,593.8 1601.9,578.7 1606.2,550.3 1610.5,525.0 1614.8,498.5 1619.0,465.7 1623.3,441.6 1627.6,418.8 1631.9,396.5 1636.2,396.7 1640.5,440.3 1644.8,486.3 1649.1,501.6 1653.4,513.2 1657.7,530.6 1661.9,557.7 1666.2,587.7 1670.5,606.5 1674.8,618.3 1679.1,624.9 1683.4,630.5 1687.7,629.2 1692.0,621.5 1696.3,612.7 1700.6,603.4 1704.8,590.8 1709.1,585.0 1713.4,569.0 1717.7,561.5 1722.0,549.0 1726.3,530.8 1730.6,553.8 1734.9,523.7 1739.2,499.8 1743.4,484.4 1747.7,480.9 1752.0,498.6 1756.3,512.1 1760.6,533.4 1764.9,561.5 1769.2,586.5 1773.5,607.1 1777.8,620.2 1782.1,628.6 1786.3,637.0 1790.6,636.5 1794.9,635.2 1799.2,629.5 1803.5,622.1 1807.8,605.2 1812.1,582.8 1816.4,557.6 1820.7,528.6 1825.0,504.3 1829.2,479.9 1833.5,454.7 1837.8,448.5 1842.1,443.9 1846.4,434.1 1850.7,452.8 1855.0,461.2 1859.3,464.1 1863.6,483.7 1867.8,509.9 1872.1,546.5 1876.4,573.4 1880.7,593.1 1885.0,602.4 1889.3,609.9 1893.6,611.2 1897.9,605.2 1902.2,596.8 1906.5,582.8 1910.7,568.8 1915.0,552.9 1919.3,524.1 1923.6,504.3 1927.9,466.5 1932.2,432.8 1936.5,444.4 1940.8,453.8 1945.1,465.9 1949.3,485.6 1953.6,496.8 1957.9,507.1 1962.2,520.2" fill="none" stroke="#1f77b4" stroke-width="2.08" stroke-linejoin="round" stroke-linecap="square"/>
<polyline points="1760.6,527.6 1764.9,552.9 1769.2,578.1 1773.5,597.8 1777.8,611.8 1782.1,621.1 1786.3,628.2 1790.6,629.5 1794.9,626.7 1799.2,620.2 1803.5,611.8 1807.8,597.8 1812.1,580.9 1816.4,564.1 1820.7,545.4 1825.0,528.6 1829.2,515.5 1833.5,508.0 1837.8,493.0 1842.1,480.9 1846.4,477.1 1850.7,482.8 1855.0,493.0 1859.3,502.4 1863.6,518.3 1867.8,542.8 1872.1,567.8 1876.4,589.3 1880.7,605.2 1885.0,617.4 1889.3,626.7 1893.6,629.0 1897.9,625.8 1902.2,619.3 1906.5,610.8 1910.7,595.9 1915.0,579.1 1919.3,559.4 1923.6,542.6 1927.9,524.1 1932.2,507.1 1936.5,498.6 1940.8,483.7 1945.1,470.6 1949.3,466.9 1953.6,474.3 1957.9,484.6 1962.2,494.9" fill="none" stroke="#ff7f0e" stroke-width="2.08" stroke-linejoin="round" stroke-linecap="square"/>
</g>
<rect x="1066.5" y="384.5" width="938.0" height="288.0" fill="none" stroke="#000" stroke-width="1" shape-rendering="crispEdges"/>
<path d="M1125.0 673.0h1v5h-1zM1228.0 673.0h1v5h-1zM1331.0 673.0h1v5h-1zM1434.0 673.0h1v5h-1zM1537.0 673.0h1v5h-1zM1640.0 673.0h1v5h-1zM1743.0 673.0h1v5h-1zM1846.0 673.0h1v5h-1zM1949.0 673.0h1v5h-1zM1066.0 647.0h-5v1h5zM1066.0 610.0h-5v1h5zM1066.0 572.0h-5v1h5zM1066.0 535.0h-5v1h5zM1066.0 497.0h-5v1h5zM1066.0 460.0h-5v1h5zM1066.0 423.0h-5v1h5zM1066.0 385.0h-5v1h5z" fill="#000" stroke="none" shape-rendering="crispEdges"/>
<text x="1126.04" y="694.00" font-size="14.1" text-anchor="middle" textLength="78.12" lengthAdjust="spacingAndGlyphs">1750-01-24</text>
<text x="1228.99" y="694.00" font-size="14.1" text-anchor="middle" textLength="78.12" lengthAdjust="spacingAndGlyphs">1750-01-25</text>
<text x="1331.94" y="694.00" font-size="14.1" text-anchor="middle" textLength="78.12" lengthAdjust="spacingAndGlyphs">1750-01-26</text>
<text x="1434.89" y="694.00" font-size="14.1" text-anchor="middle" textLength="78.12" lengthAdjust="spacingAndGlyphs">1750-01-27</text>
<text x="1537.84" y="694.00" font-size="14.1" text-anchor="middle" textLength="78.12" lengthAdjust="spacingAndGlyphs">1750-01-28</text>
<text x="1640.80" y="694.00" font-size="14.1" text-anchor="middle" textLength="78.12" lengthAdjust="spacingAndGlyphs">1750-01-29</text>
<text x="1743.75" y="694.00" font-size="14.1" text-anchor="middle" textLength="78.12" lengthAdjust="spacingAndGlyphs">1750-01-30</text>
<text x="1846.70" y="694.00" font-size="14.1" text-anchor="middle" textLength="78.12" lengthAdjust="spacingAndGlyphs">1750-01-31</text>
<text x="1949.65" y="694.00" font-size="14.1" text-anchor="middle" textLength="78.12" lengthAdjust="spacingAndGlyphs">1750-02-01</text>
<text x="1055.30" y="653.00" font-size="14.1" text-anchor="end" textLength="34.21" lengthAdjust="spacingAndGlyphs">1400</text>
<text x="1055.30" y="616.00" font-size="14.1" text-anchor="end" textLength="34.21" lengthAdjust="spacingAndGlyphs">1600</text>
<text x="1055.30" y="579.00" font-size="14.1" text-anchor="end" textLength="34.21" lengthAdjust="spacingAndGlyphs">1800</text>
<text x="1055.30" y="541.00" font-size="14.1" text-anchor="end" textLength="34.21" lengthAdjust="spacingAndGlyphs">2000</text>
<text x="1055.30" y="504.00" font-size="14.1" text-anchor="end" textLength="34.21" lengthAdjust="spacingAndGlyphs">2200</text>
<text x="1055.30" y="466.00" font-size="14.1" text-anchor="end" textLength="34.21" lengthAdjust="spacingAndGlyphs">2400</text>
<text x="1055.30" y="429.00" font-size="14.1" text-anchor="end" textLength="34.21" lengthAdjust="spacingAndGlyphs">2600</text>
<text x="1055.30" y="392.00" font-size="14.1" text-anchor="end" textLength="34.21" lengthAdjust="spacingAndGlyphs">2800</text>
<text x="1534.80" y="376.00" font-size="17.6" text-anchor="middle" textLength="32.66" lengthAdjust="spacingAndGlyphs">H53</text>
<text x="1535.20" y="713.10" font-size="14.1" text-anchor="middle" textLength="33.32" lengthAdjust="spacingAndGlyphs">Time</text>
<rect x="909.5" y="718.5" width="243" height="25" rx="2.8" ry="2.8" fill="#fff" fill-opacity="0.8" stroke="#cccccc" stroke-opacity="0.8" stroke-width="1.1"/>
<path d="M915 729.9H943" stroke="#1f77b4" stroke-width="2.08" stroke-linecap="square"/>
<path d="M1047.8 729.9H1075.8" stroke="#ff7f0e" stroke-width="2.08" stroke-linecap="square"/>
<text x="954.00" y="734.80" font-size="14.1" text-anchor="start" textLength="65.46" lengthAdjust="spacingAndGlyphs">Observed</text>
<text x="1087.80" y="734.80" font-size="14.1" text-anchor="start" textLength="58.36" lengthAdjust="spacingAndGlyphs">Forecast</text>
</svg>
</body></html>
